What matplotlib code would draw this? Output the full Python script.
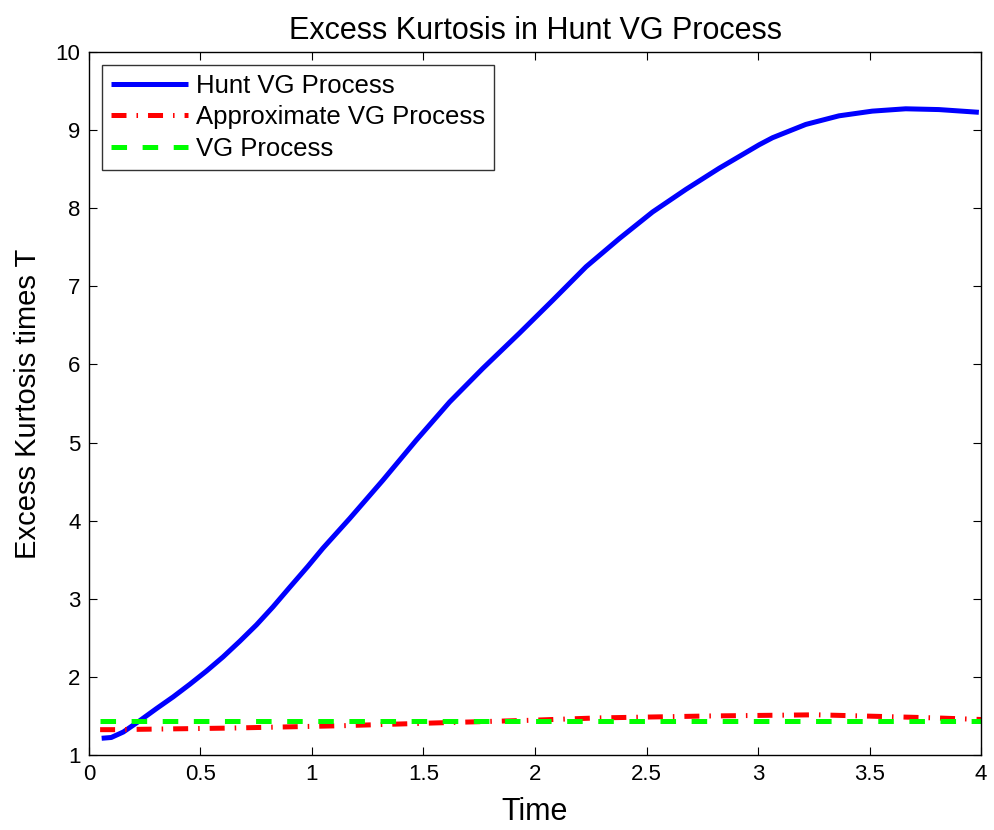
import matplotlib
matplotlib.use("Agg")
import matplotlib.pyplot as plt

plt.rcParams['font.family'] = ['Liberation Sans', 'DejaVu Sans']
plt.rcParams['lines.scale_dashes'] = False

# Hunt VG Process (excess kurtosis times T)
t_hunt = [0.057, 0.10, 0.154, 0.228, 0.303, 0.378, 0.452, 0.527, 0.601, 0.676,
          0.751, 0.825, 0.90, 0.982, 1.049, 1.169, 1.318, 1.467, 1.617, 1.766,
          1.93, 2.079, 2.229, 2.378, 2.527, 2.677, 2.826, 3.005, 3.065, 3.214,
          3.363, 3.512, 3.662, 3.811, 3.99]
k_hunt = [1.22, 1.23, 1.30, 1.445, 1.60, 1.75, 1.91, 2.08, 2.26, 2.46,
          2.67, 2.90, 3.15, 3.42, 3.65, 4.03, 4.52, 5.03, 5.52, 5.95,
          6.40, 6.82, 7.25, 7.61, 7.95, 8.24, 8.51, 8.81, 8.90, 9.07,
          9.18, 9.24, 9.27, 9.26, 9.225]

# Approximate VG Process
t_approx = [0.05, 0.11, 0.63, 1.13, 1.6, 1.98, 2.28, 2.78, 3.26, 3.47, 3.8, 4.0]
k_approx = [1.33, 1.33, 1.35, 1.38, 1.42, 1.45, 1.48, 1.505, 1.52, 1.505, 1.48, 1.46]

# VG Process
t_vg = [0.05, 4.0]
k_vg = [1.44, 1.44]

xticks = [0, 0.5, 1, 1.5, 2, 2.5, 3, 3.5, 4]
xtick_labels = ['0', '0.5', '1', '1.5', '2', '2.5', '3', '3.5', '4']
yticks = [1, 2, 3, 4, 5, 6, 7, 8, 9, 10]

fig = plt.figure(figsize=(9.95, 8.3), dpi=100)
ax = fig.add_axes([0.0894, 0.0898, 0.8966, 0.8479])

ax.plot(t_hunt, k_hunt, color='#0000ff', lw=3.6, solid_capstyle='butt',
        solid_joinstyle='round', label='Hunt VG Process')
ax.plot(t_approx, k_approx, color='#ff0000', lw=3.6, dashes=(10.8, 7.2, 1.1, 7.2),
        label='Approximate VG Process')
ax.plot(t_vg, k_vg, color='#00ff00', lw=3.6, dashes=(11.2, 11.2),
        label='VG Process')

ax.set_xlim(0, 4)
ax.set_ylim(1, 10)
ax.set_xticks(xticks)
ax.set_xticklabels(xtick_labels)
ax.set_yticks(yticks)
ax.tick_params(direction='in', length=6, width=0.8, labelsize=16,
               top=True, right=True, pad=6)
for s in ax.spines.values():
    s.set_linewidth(1.0)

ax.set_title('Excess Kurtosis in Hunt VG Process', fontsize=22, pad=9)
ax.set_xlabel('Time', fontsize=22, labelpad=9)
ax.set_ylabel('Excess Kurtosis times T', fontsize=21, labelpad=10)

leg = ax.legend(loc='upper left', fontsize=18.5, frameon=True, fancybox=False,
                edgecolor='black', handlelength=3.0, handletextpad=0.32,
                borderaxespad=0.5, labelspacing=0.3, borderpad=0.35)
leg.get_frame().set_linewidth(1.0)

fig.savefig('out.png', dpi=100)
